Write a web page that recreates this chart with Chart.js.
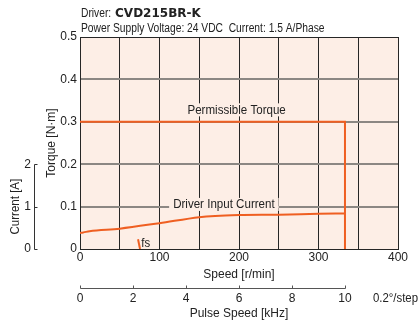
<!DOCTYPE html>
<html><head><meta charset="utf-8">
<script src="https://cdn.jsdelivr.net/npm/chart.js@4"></script>
<style>html,body{margin:0;padding:0;background:#fff;overflow:hidden}#wrap{width:419px;height:325px;position:relative}</style>
</head><body><div id="wrap"><canvas id="c" width="419" height="325"></canvas></div>
<script>
// ---- data ----
const titleDriverLabel = 'Driver: ';
const titleModel = 'CVD215BR-K';
const subtitleText = 'Power Supply Voltage: 24 VDC  Current: 1.5 A/Phase';
const speedTicks = [0, 100, 200, 300, 400];          // r/min
const torqueTicks = [0, 0.1, 0.2, 0.3, 0.4, 0.5];    // N·m
const currentTicks = [0, 1, 2];                      // A
const pulseTicks = [0, 2, 4, 6, 8, 10];              // kHz
const pulseStepLabel = '0.2°/step';
const torqueSpeed = [0, 333.3, 333.3];
const torqueValues = [0.3, 0.3, 0];
const currentSpeed = [0, 4, 12, 50, 100, 150, 170, 200, 250, 300, 333.3];
const currentValues = [0.38, 0.39, 0.42, 0.48, 0.61, 0.75, 0.78, 0.80, 0.81, 0.83, 0.84];
const fsSpeed = [73, 75.5];
const fsTorque = [0.023, 0];
const labelTorque = 'Permissible Torque';
const labelCurrent = 'Driver Input Current';
const labelFs = 'fs';

const FONT = '"Liberation Sans", Arial, sans-serif';
const ORANGE = '#ef5f22';
const GRID_V = '#262626';
const GRID_H = '#8c8783';
const TEXT = '#222222';
const PLOTBG = '#fdeee6';

Chart.defaults.font.family = FONT;
Chart.defaults.font.size = 12;
Chart.defaults.color = TEXT;

const pts = (xs, ys) => xs.map((x, i) => ({x, y: ys[i]}));

function sText(ctx, txt, x, y, sx) {
  ctx.save();
  ctx.translate(x, y);
  ctx.scale(sx, 1);
  ctx.fillText(txt, 0, 0);
  ctx.restore();
}

const decor = {
  id: 'decor',
  beforeDraw(chart) {
    const {ctx, chartArea: a} = chart;
    ctx.save();
    ctx.fillStyle = '#fff';
    ctx.fillRect(0, 0, chart.width, chart.height);
    ctx.fillStyle = PLOTBG;
    ctx.fillRect(a.left, a.top, a.right - a.left, a.bottom - a.top);
    ctx.restore();
  },
  beforeDatasetsDraw(chart) {
    const {ctx, scales} = chart;
    const x = scales.x, y = scales.y;
    ctx.save();
    ctx.font = '12.5px ' + FONT;
    ctx.textAlign = 'center';
    ctx.textBaseline = 'middle';
    const sx = 0.925;
    const drawLbl = (txt, sv, tv) => {
      const px = x.getPixelForValue(sv), py = y.getPixelForValue(tv);
      const w = ctx.measureText(txt).width * sx;
      ctx.fillStyle = PLOTBG;
      ctx.fillRect(px - w / 2 - 4, py - 7, w + 8, 13);
      ctx.fillStyle = TEXT;
      sText(ctx, txt, px, py, sx);
    };
    drawLbl(labelTorque, 197, 0.327);
    drawLbl(labelCurrent, 181, 0.104);
    ctx.textAlign = 'left';
    ctx.font = '12px ' + FONT;
    ctx.fillStyle = TEXT;
    sText(ctx, labelFs, x.getPixelForValue(77), y.getPixelForValue(0.012), 0.95);
    ctx.restore();
  },
  afterDraw(chart) {
    const {ctx, scales} = chart;
    const yc = scales.yCur, x2 = scales.x2;
    ctx.save();
    // title
    ctx.fillStyle = TEXT;
    ctx.textBaseline = 'alphabetic';
    ctx.textAlign = 'left';
    ctx.font = '12px ' + FONT;
    const tsx = 0.855;
    sText(ctx, titleDriverLabel, 81, 17, tsx);
    const w1 = ctx.measureText(titleDriverLabel).width * tsx;
    ctx.font = 'bold 12px "DejaVu Sans"';
    ctx.fillText(titleModel, 81 + w1 + 1, 17);
    ctx.font = '12px ' + FONT;
    sText(ctx, subtitleText, 81, 31.5, tsx);
    // current axis line
    ctx.strokeStyle = '#333';
    ctx.lineWidth = 1;
    const cx = 34.5;
    ctx.beginPath();
    ctx.moveTo(cx, Math.round(yc.getPixelForValue(currentTicks[currentTicks.length - 1])) + 0.5);
    ctx.lineTo(cx, Math.round(yc.getPixelForValue(0)) + 0.5);
    currentTicks.forEach(v => {
      const py = Math.round(yc.getPixelForValue(v)) + 0.5;
      ctx.moveTo(cx, py); ctx.lineTo(cx + 3, py);
    });
    ctx.stroke();
    ctx.save();
    ctx.translate(16, yc.getPixelForValue(1));
    ctx.rotate(-Math.PI / 2);
    ctx.textAlign = 'center';
    ctx.textBaseline = 'middle';
    ctx.font = '12px ' + FONT;
    sText(ctx, 'Current [A]', 0, 0, 0.96);
    ctx.restore();
    // pulse speed axis line
    const ly = 288.5;
    ctx.strokeStyle = '#555';
    ctx.beginPath();
    ctx.moveTo(Math.round(x2.getPixelForValue(0)) + 0.5, ly);
    ctx.lineTo(Math.round(x2.getPixelForValue(pulseTicks[pulseTicks.length - 1])) + 0.5, ly);
    pulseTicks.forEach(v => {
      const px = Math.round(x2.getPixelForValue(v)) + 0.5;
      ctx.moveTo(px, ly); ctx.lineTo(px, ly - 3);
    });
    ctx.stroke();
    ctx.font = '12px ' + FONT;
    ctx.textAlign = 'right';
    ctx.textBaseline = 'middle';
    ctx.fillStyle = TEXT;
    sText(ctx, pulseStepLabel, chart.width - 1, 298.5, 0.95);
    ctx.restore();
  }
};

const isEdgeTorque = v => v === torqueTicks[0] || v === torqueTicks[torqueTicks.length - 1];

new Chart(document.getElementById('c'), {
  type: 'line',
  data: {
    datasets: [
      {data: pts(torqueSpeed, torqueValues), yAxisID: 'y', xAxisID: 'x', borderColor: ORANGE, borderWidth: 2, pointRadius: 0, tension: 0},
      {data: pts(currentSpeed, currentValues), yAxisID: 'yCur', xAxisID: 'x', borderColor: ORANGE, borderWidth: 2, pointRadius: 0, cubicInterpolationMode: 'monotone'},
      {data: pts(fsSpeed, fsTorque), yAxisID: 'y', xAxisID: 'x', borderColor: ORANGE, borderWidth: 2, pointRadius: 0, tension: 0}
    ]
  },
  options: {
    responsive: false,
    animation: false,
    events: [],
    layout: {padding: {top: 37, right: 21, left: 0, bottom: 0}},
    plugins: {legend: {display: false}, tooltip: {enabled: false}, title: {display: false}},
    scales: {
      x: {
        type: 'linear', position: 'bottom', weight: 0, min: 0, max: 400,
        afterFit: s => { s.height = 33; },
        afterBuildTicks: s => { s.ticks = [0,50,100,150,200,250,300,350,400].map(v => ({value: v})); },
        ticks: {autoSkip: false, maxRotation: 0, padding: 1, callback: v => speedTicks.includes(v) ? String(v) : ''},
        grid: {color: GRID_V, lineWidth: 1, drawTicks: false},
        border: {color: GRID_V},
        title: {display: true, text: 'Speed [r/min]', padding: {top: 0, bottom: 0}}
      },
      x2: {
        type: 'linear', position: 'bottom', weight: 1, min: 0, max: 12,
        afterFit: s => { s.height = 43; },
        afterBuildTicks: s => { s.ticks = [0,2,4,6,8,10,12].map(v => ({value: v})); },
        ticks: {autoSkip: false, maxRotation: 0, padding: 9, callback: v => pulseTicks.includes(v) ? String(v) : ''},
        grid: {display: false, drawTicks: false},
        border: {display: false},
        title: {display: true, text: 'Pulse Speed [kHz]', padding: {top: 0, bottom: 4}}
      },
      y: {
        type: 'linear', position: 'left', weight: 0, min: 0, max: 0.5,
        afterFit: s => { s.width = 40; },
        afterBuildTicks: s => { s.ticks = torqueTicks.map(v => ({value: v})); },
        ticks: {padding: 3, callback: v => v === 0 ? '0' : v.toFixed(1)},
        grid: {
          color: c => isEdgeTorque(c.tick.value) ? GRID_V : GRID_H,
          lineWidth: c => isEdgeTorque(c.tick.value) ? 1 : 2,
          drawTicks: false
        },
        border: {color: GRID_V},
        title: {display: true, text: 'Torque [N·m]', padding: {top: 4.5, bottom: 0}}
      },
      yCur: {
        type: 'linear', position: 'left', weight: 1, min: 0, max: 5,
        afterFit: s => { s.width = 40; },
        afterBuildTicks: s => { s.ticks = currentTicks.map(v => ({value: v})); },
        ticks: {padding: 9, callback: v => String(v)},
        grid: {display: false, drawTicks: false},
        border: {display: false}
      }
    }
  },
  plugins: [decor]
});
</script></body></html>
